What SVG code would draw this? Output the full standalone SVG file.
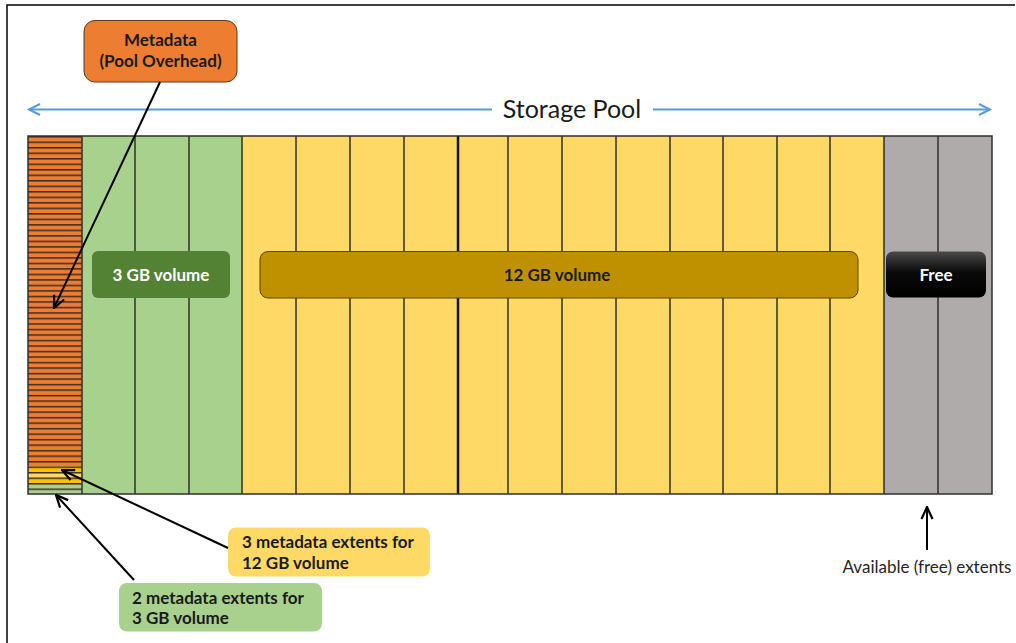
<svg xmlns="http://www.w3.org/2000/svg" width="1016" height="643" viewBox="0 0 1016 643">
  <style>
    .lbl { font-family: Lato, "Liberation Sans", sans-serif; font-weight: bold; font-size: 17px; }
    .col { stroke: #2f2f2f; stroke-width: 1.5; }
    .conn { stroke: #000; stroke-width: 2; fill: none; }
    .pool { stroke: #5b9bd5; stroke-width: 2; fill: none; }
  </style>
  <defs>
    <marker id="openArrow" viewBox="0 0 14 14" refX="13" refY="7" markerWidth="14" markerHeight="14" markerUnits="userSpaceOnUse" orient="auto">
      <path d="M1,1.5 L13,7 L1,12.5" fill="none" stroke="#000" stroke-width="2.2"/>
    </marker>
    <!-- thin separator line repeated for each metadata extent -->
    <pattern id="extentLines" patternUnits="userSpaceOnUse" x="28" y="136" width="54" height="5.5077">
      <rect x="0" y="0" width="54" height="1.5" fill="#3a2e28"/>
    </pattern>
    <linearGradient id="freeGrad" x1="0" y1="0" x2="0" y2="1">
      <stop offset="0" stop-color="#4a4a4a"/>
      <stop offset="0.45" stop-color="#0a0a0a"/>
      <stop offset="1" stop-color="#000"/>
    </linearGradient>
  </defs>

  <rect width="1016" height="643" fill="#fff"/>
  <!-- frame edges -->
  <path d="M7,643 V5 H1015" fill="none" stroke="#000" stroke-width="1.5"/>

  <!-- storage pool span -->
  <g id="storage-pool-span">
    <path class="pool" d="M29,109.5 H492 M653,109.5 H990"/>
    <path class="pool" d="M40,104 L29,109.5 L40,115"/>
    <path class="pool" d="M979,104 L990,109.5 L979,115"/>
    <text x="572" y="117.5" text-anchor="middle" font-family="Lato, 'Liberation Sans', sans-serif" font-size="25" fill="#1a1a1a">Storage Pool</text>
  </g>

  <!-- pool extents -->
  <g id="pool">
    <rect x="82" y="136" width="160" height="358" fill="#a9d18e"/>
    <rect x="242" y="136" width="642" height="358" fill="#ffd966"/>
    <rect x="884" y="136" width="108" height="358" fill="#afabab"/>
    <g id="metadata-extents">
      <rect x="28" y="136" width="54" height="330.46" fill="#ed7d31"/>
      <rect x="28" y="466.46" width="54" height="5.51" fill="#ffc000"/>
      <rect x="28" y="471.97" width="54" height="5.51" fill="#ffd966"/>
      <rect x="28" y="477.48" width="54" height="5.51" fill="#ffc000"/>
      <rect x="28" y="482.98" width="54" height="11.02" fill="#a9d18e"/>
      <rect x="28" y="136" width="54" height="358" fill="url(#extentLines)"/>
    </g>
    <g class="col">
      <line x1="82" y1="136" x2="82" y2="494"/>
      <line x1="135" y1="136" x2="135" y2="494"/>
      <line x1="189" y1="136" x2="189" y2="494"/>
      <line x1="242" y1="136" x2="242" y2="494"/>
      <line x1="296" y1="136" x2="296" y2="494"/>
      <line x1="350" y1="136" x2="350" y2="494"/>
      <line x1="404" y1="136" x2="404" y2="494"/>
      <line x1="458" y1="136" x2="458" y2="494" stroke-width="2.5" stroke="#111"/>
      <line x1="508" y1="136" x2="508" y2="494"/>
      <line x1="562" y1="136" x2="562" y2="494"/>
      <line x1="616" y1="136" x2="616" y2="494"/>
      <line x1="670" y1="136" x2="670" y2="494"/>
      <line x1="723" y1="136" x2="723" y2="494"/>
      <line x1="777" y1="136" x2="777" y2="494"/>
      <line x1="830" y1="136" x2="830" y2="494"/>
      <line x1="884" y1="136" x2="884" y2="494"/>
      <line x1="938" y1="136" x2="938" y2="494"/>
    </g>
    <rect x="28" y="136" width="964" height="358" fill="none" stroke="#2f2f2f" stroke-width="1.5"/>
  </g>

  <!-- volume labels -->
  <g id="vol-3gb">
    <rect x="92" y="251" width="138" height="47" rx="6" fill="#548235"/>
    <text class="lbl" x="161" y="281" text-anchor="middle" fill="#fff">3 GB volume</text>
  </g>
  <g id="vol-12gb">
    <rect x="260" y="251.5" width="598" height="46.5" rx="8" fill="#bf9000" stroke="#5a4400" stroke-width="1"/>
    <text class="lbl" x="557" y="281" text-anchor="middle" fill="#1a1a1a">12 GB volume</text>
  </g>
  <g id="free">
    <rect x="886" y="251.5" width="100" height="46" rx="7" fill="url(#freeGrad)"/>
    <text class="lbl" x="936" y="281" text-anchor="middle" fill="#fff">Free</text>
  </g>

  <!-- callouts -->
  <g id="metadata-callout">
    <rect x="84" y="20.5" width="153" height="61.5" rx="11" fill="#ed7d31" stroke="#5a3a20" stroke-width="1"/>
    <text class="lbl" x="160.5" y="46" text-anchor="middle" fill="#1a1a1a">Metadata</text>
    <text class="lbl" x="160.5" y="67" text-anchor="middle" fill="#1a1a1a">(Pool Overhead)</text>
  </g>
  <g id="yellow-note">
    <rect x="228" y="527.5" width="202" height="49" rx="8" fill="#ffd966"/>
    <text class="lbl" x="242" y="548" fill="#1a1a1a">3 metadata extents for</text>
    <text class="lbl" x="242" y="568.5" fill="#1a1a1a">12 GB volume</text>
  </g>
  <g id="green-note">
    <rect x="119" y="583" width="203" height="48.5" rx="8" fill="#a9d18e"/>
    <text class="lbl" x="132" y="603.5" fill="#1a1a1a">2 metadata extents for</text>
    <text class="lbl" x="132" y="624" fill="#1a1a1a">3 GB volume</text>
  </g>
  <g id="free-note">
    <text x="927" y="573" text-anchor="middle" font-family="Lato, 'Liberation Sans', sans-serif" font-size="17" fill="#262626">Available (free) extents</text>
  </g>

  <!-- connectors -->
  <g id="connectors">
    <line class="conn" x1="160" y1="82" x2="54" y2="308" marker-end="url(#openArrow)"/>
    <line class="conn" x1="228" y1="548" x2="62" y2="470" marker-end="url(#openArrow)"/>
    <line class="conn" x1="134" y1="580" x2="56" y2="495" marker-end="url(#openArrow)"/>
    <line class="conn" x1="927" y1="550" x2="927" y2="507" marker-end="url(#openArrow)"/>
  </g>
</svg>
